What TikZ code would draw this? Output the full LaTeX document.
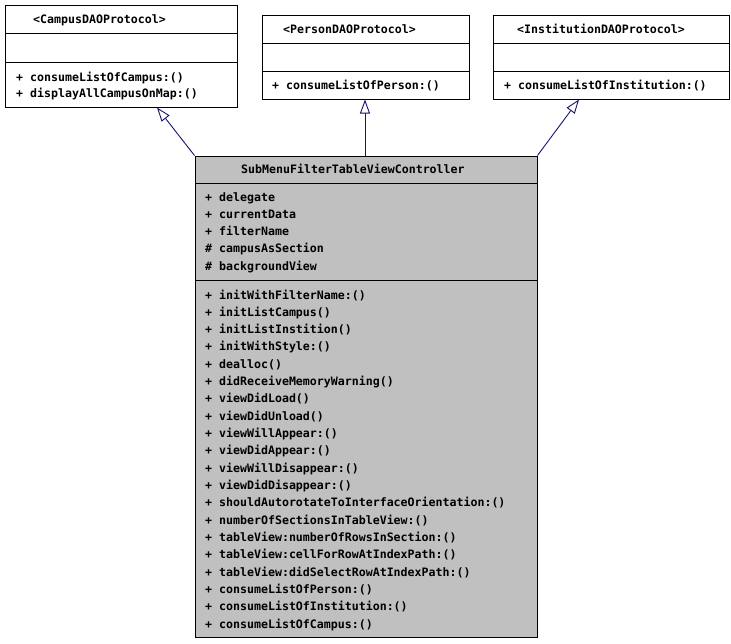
\documentclass[tikz,border=0pt]{standalone}
\usepackage{fontspec}
\setmonofont{DejaVu Sans Mono}
\usetikzlibrary{arrows.meta}
\definecolor{classgray}{RGB}{192,192,192}
\definecolor{linkblue}{RGB}{20,20,110}
\tikzset{
  umlbox/.style={draw=black, line width=1pt, rectangle, inner sep=0pt},
  umltxt/.style={anchor=base west, inner sep=0pt, font=\ttfamily\bfseries\fontsize{11.6}{12}\selectfont},
  realize/.style={draw=linkblue, line width=0.9pt,
    -{Triangle[length=14pt,width=10pt,fill=white,line width=0.9pt]}},
}
\begin{document}
\begin{tikzpicture}[x=1pt,y=-1pt]
\useasboundingbox (0,0) rectangle (731,643);

% interface boxes
\node[umlbox, fill=white, minimum width=232pt, minimum height=102pt] (campus) at (121,56) {};
\node[umlbox, fill=white, minimum width=207pt, minimum height=84pt] (person) at (365.5,57) {};
\node[umlbox, fill=white, minimum width=236pt, minimum height=84pt] (inst) at (611,57) {};
% class box
\node[umlbox, fill=classgray, minimum width=342pt, minimum height=481pt] (ctrl) at (366,396.5) {};

% compartment separators
\draw[line width=1pt] (5,33) -- (237,33) (5,62) -- (237,62);
\draw[line width=1pt] (262,43) -- (469,43) (262,71) -- (469,71);
\draw[line width=1pt] (493,43) -- (729,43) (493,71) -- (729,71);
\draw[line width=1pt] (195,183) -- (537,183) (195,280) -- (537,280);

% interface texts
\node[umltxt] (campusT) at (33,23) {<CampusDAOProtocol>};
\node[umltxt] (campusM1) at (16,81) {+ consumeListOfCampus:()};
\node[umltxt] (campusM2) at (16,97) {+ displayAllCampusOnMap:()};
\node[umltxt] (personT) at (283,33) {<PersonDAOProtocol>};
\node[umltxt] (personM1) at (272,89) {+ consumeListOfPerson:()};
\node[umltxt] (instT) at (517,33) {<InstitutionDAOProtocol>};
\node[umltxt] (instM1) at (504,89) {+ consumeListOfInstitution:()};

% class texts
\node[umltxt] (ctrlT) at (241,173) {SubMenuFilterTableViewController};
\foreach \t [count=\i from 0] in {%
  + delegate, + currentData, + filterName, \# campusAsSection, \# backgroundView}
  \node[umltxt] (attr\i) at (205,{201+17.25*\i}) {\t};
\foreach \t [count=\i from 0] in {%
  + initWithFilterName:(), + initListCampus(), + initListInstition(),
  + initWithStyle:(), + dealloc(), + didReceiveMemoryWarning(),
  + viewDidLoad(), + viewDidUnload(), + viewWillAppear:(),
  + viewDidAppear:(), + viewWillDisappear:(), + viewDidDisappear:(),
  + shouldAutorotateToInterfaceOrientation:(), + numberOfSectionsInTableView:(),
  + tableView:numberOfRowsInSection:(), + tableView:cellForRowAtIndexPath:(),
  + tableView:didSelectRowAtIndexPath:(), + consumeListOfPerson:(),
  + consumeListOfInstitution:(), + consumeListOfCampus:()}
  \node[umltxt] (op\i) at (205,{299+17.316*\i}) {\t};

% realization links
\coordinate (cA) at (157,107.5);
\coordinate (pA) at (365,99.5);
\coordinate (iA) at (579,99.5);
\draw[realize] (ctrl.north west) -- (cA);
\draw[realize] (ctrl.north west -| pA) -- (pA);
\draw[realize] (ctrl.north east) -- (iA);
\end{tikzpicture}
\end{document}
